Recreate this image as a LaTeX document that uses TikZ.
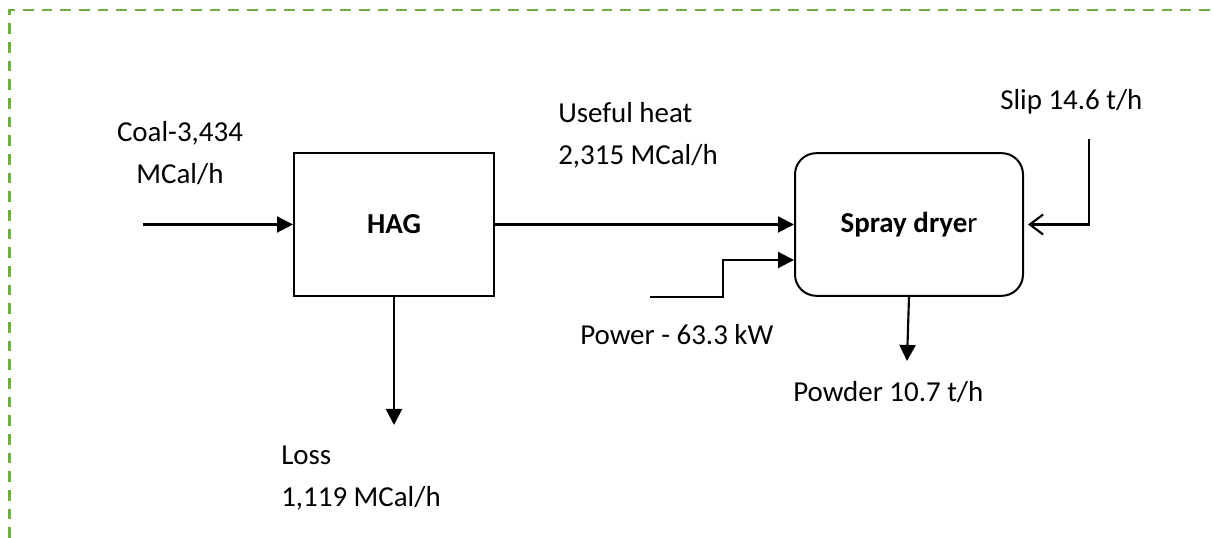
\documentclass[tikz,border=0pt]{standalone}
\usepackage{fontspec}
\setmainfont{Carlito}
\usepackage{tikz}
\usetikzlibrary{arrows.meta,positioning,calc}
\usepackage{xcolor}
\definecolor{framegreen}{RGB}{112,173,71}
\tikzset{
  unit/.style={draw=black,line width=1.5pt,fill=white,minimum width=150pt,
               minimum height=107pt,inner sep=0pt},
  dryer/.style={unit,rounded corners=16pt,minimum width=171pt},
  flow/.style={-{Triangle[length=12pt,width=12pt]},draw=black,line width=1.6pt},
  feed/.style={-{Straight Barb[length=10pt,width=15pt]},draw=black,line width=1.6pt,
               shorten >=3pt},
  tag/.style={inner sep=0pt,align=left},
  frame/.style={draw=framegreen,dash pattern=on 8pt off 6pt,line width=2pt},
}

\begin{document}
\begin{tikzpicture}[x=0.75pt,y=0.75pt,font={\fontsize{21.7}{31.5}\selectfont}]
  \useasboundingbox (0,0) rectangle (1214,538);
  % dashed frame
  \draw[frame] (9.5,0) -- (9.5,528) -- (1214,528);
  % units
  \node[unit]  (hag) at (394,313.5) {\textbf{HAG}};
  \node[dryer] (sd)  at (909,313.5) {\textbf{Spray drye}r};
  % free ends
  \coordinate (coalin) at (143,313.5);
  \coordinate (lossout) at (394,113);
  \coordinate (pwin) at (650,241);
  \coordinate (slipin) at (1089,399);
  \coordinate (pdout) at (907,177);
  % streams
  \draw[flow] (coalin) -- (hag.west);
  \draw[flow] (hag.east) -- (sd.west);
  \draw[flow] (hag.south) -- (lossout);
  \draw[flow] (pwin) -- ++(73,0) |- ($(sd.west)+(0,-35.5)$);
  \draw[feed] (slipin) |- (sd.east);
  \draw[flow] (sd.south) -- (pdout);
  % labels (base = last line)
  \node[tag,align=center,anchor=base] (coal) at (180,354) {Coal-3,434\\MCal/h};
  \node[tag,anchor=base west] (heat) at (558,373) {Useful heat\\2,315 MCal/h};
  \node[tag,anchor=base west] (loss) at (281,31) {Loss\\1,119 MCal/h};
  \node[tag,anchor=base west] (power) at (580,193) {Power - 63.3 kW};
  \node[tag,anchor=base west] (powder) at (793,136) {Powder 10.7 t/h};
  \node[tag,anchor=base west] (slip) at (1000,428) {Slip 14.6 t/h};
\end{tikzpicture}
\end{document}
